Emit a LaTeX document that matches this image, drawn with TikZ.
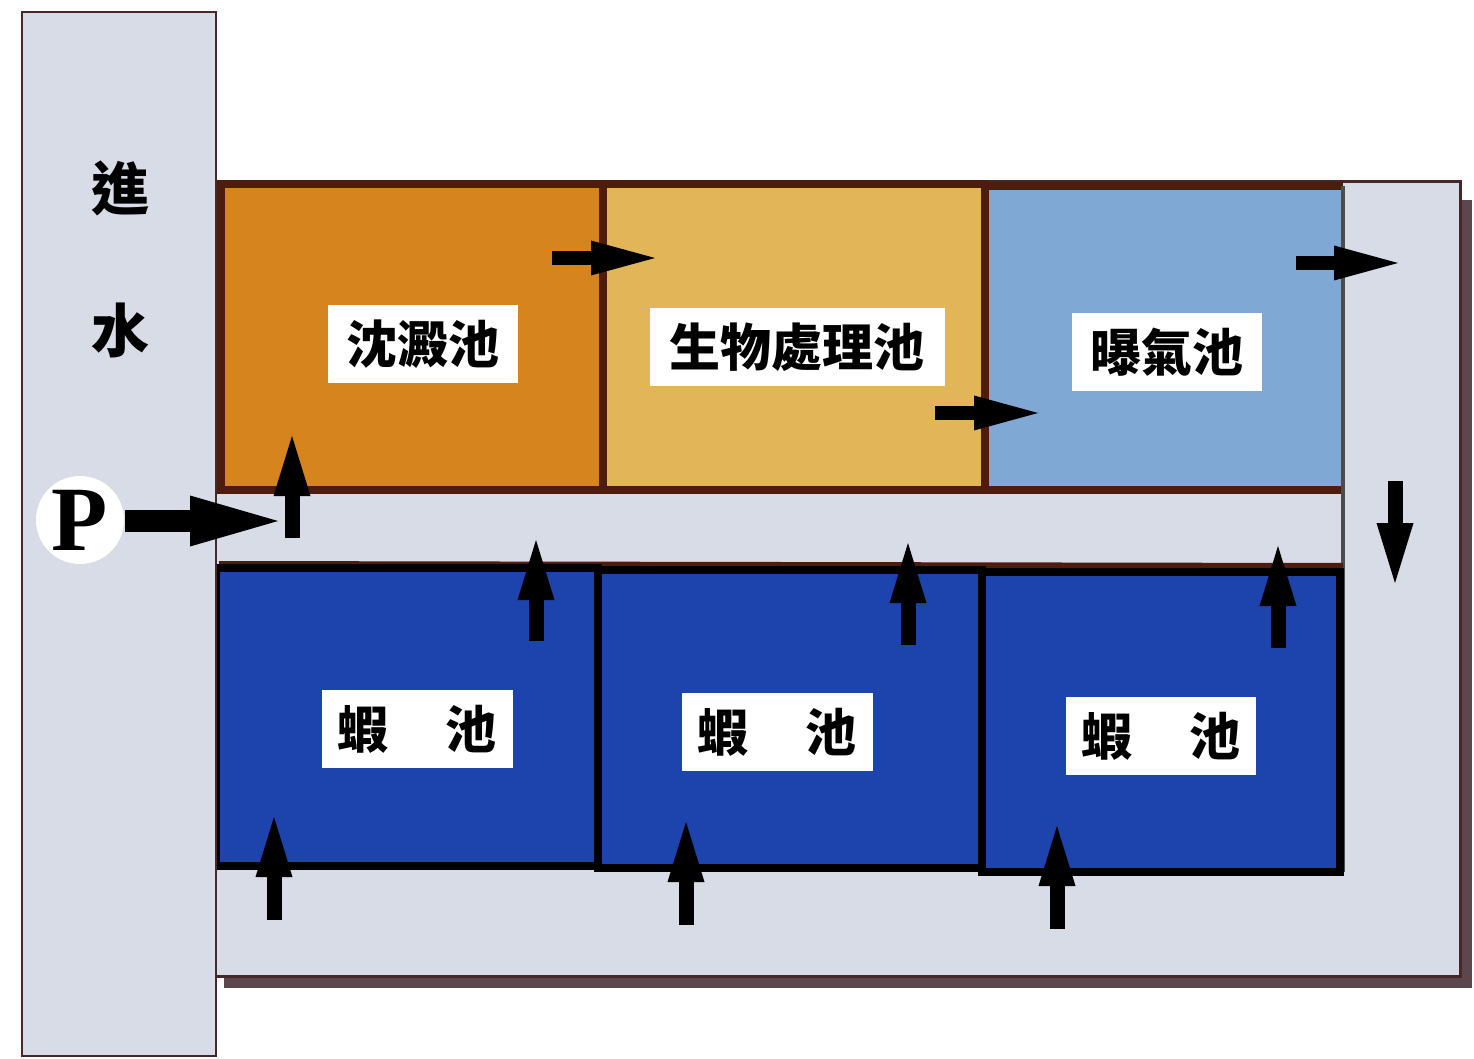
\documentclass[tikz,border=0pt]{standalone}
\usepackage{fontspec}
\setmainfont{Liberation Serif}
\newfontfamily\cjk{Noto Sans CJK TC}
\usetikzlibrary{arrows.meta}
\definecolor{grayfill}{RGB}{216,220,230}
\definecolor{shadowc}{RGB}{92,72,76}
\definecolor{framec}{RGB}{70,40,40}
\definecolor{tankborder}{RGB}{78,28,14}
\definecolor{sedc}{RGB}{214,132,30}
\definecolor{bioc}{RGB}{226,182,88}
\definecolor{aerc}{RGB}{128,168,212}
\definecolor{shrimpc}{RGB}{28,68,172}
\tikzset{
  tankbox/.style={line width=4pt, draw=tankborder},
  shrimpbox/.style={line width=4pt, draw=black, fill=shrimpc},
  labelbox/.style={fill=white, inner sep=0pt, minimum height=39pt,
    font=\cjk\bfseries\fontsize{25.5}{26}\selectfont},
  sidelabel/.style={inner sep=0pt, font=\cjk\bfseries\fontsize{29}{30}\selectfont},
  flowh/.style={line width=7pt, line cap=butt, -{Triangle[length=32pt,width=17.5pt,line width=0pt]}},
  flowv/.style={line width=7.5pt, line cap=butt, -{Triangle[length=30pt,width=18.5pt,line width=0pt]}},
  flowp/.style={line width=11pt, line cap=butt, -{Triangle[length=44pt,width=25.5pt,line width=0pt]}},
}
\begin{document}
\begin{tikzpicture}[x=0.5pt,y=-0.5pt]
\useasboundingbox (0,0) rectangle (1474,1059);
\fill[white] (0,0) rectangle (1474,1059);
% shadow of the frame
\fill[shadowc] (224,200) rectangle (1472,988);
% outer frame (channels)
\draw[fill=grayfill, draw=framec, line width=1.5pt] (214,182) rectangle (1460,976);
% top row tanks
\draw[tankbox, fill=sedc] (221,184) rectangle (603,490);
\draw[tankbox, fill=bioc] (603,184) rectangle (985,490);
\fill[aerc] (985,188) rectangle (1343,490);
\draw[tankborder, line width=4pt] (1343,186) -- (985,186) -- (985,490) -- (1343,490);
% separator between middle/top row and right channel
\draw[black!70, line width=1.8pt] (1343,186) -- (1343,872);
% middle channel lower border
\draw[tankborder, line width=4pt] (219,565) -- (1343,567);
% shrimp tanks
\draw[shrimpbox] (216,568) rectangle (598,866);
\draw[shrimpbox] (598,570) rectangle (982,868);
\draw[shrimpbox] (982,572) rectangle (1340,872);
% inlet column
\draw[fill=grayfill, draw=framec, line width=1.2pt] (22,12) rectangle (216,1056);
\node[sidelabel] (jin) at (120,188) {進};
\node[sidelabel] (shui) at (120,330) {水};
% labels
\node[labelbox, minimum width=95pt] (sed) at (423,344) {沈澱池};
\node[labelbox, minimum width=147.5pt] (bio) at (797,347) {生物處理池};
\node[labelbox, minimum width=95pt] (aer) at (1167,352) {曝氣池};
\node[labelbox, minimum width=95.5pt] (s1) at (417,729) {蝦\hspace{1.1em}池};
\node[labelbox, minimum width=95.5pt] (s2) at (777,732) {蝦\hspace{1.1em}池};
\node[labelbox, minimum width=95pt] (s3) at (1161,736) {蝦\hspace{1.1em}池};
% pump
\node[circle, fill=white, minimum size=44pt, inner sep=0pt,
      font=\bfseries\fontsize{46}{46}\selectfont] (pump) at (80,520) {P};
% flow arrow coordinates
\coordinate (pA) at (125,521);
\coordinate (pB) at (278,521);
\coordinate (u0a) at (292,538);  \coordinate (u0b) at (292,436);
\coordinate (h1a) at (552,258);  \coordinate (h1b) at (655,258);
\coordinate (h2a) at (935,413);  \coordinate (h2b) at (1038,413);
\coordinate (h3a) at (1296,263); \coordinate (h3b) at (1398,263);
\coordinate (d1a) at (1395,481); \coordinate (d1b) at (1395,583);
\coordinate (m1a) at (536,641);  \coordinate (m1b) at (536,540);
\coordinate (m2a) at (908,645);  \coordinate (m2b) at (908,543);
\coordinate (m3a) at (1278,648); \coordinate (m3b) at (1278,546);
\coordinate (b1a) at (274,920);  \coordinate (b1b) at (274,817);
\coordinate (b2a) at (686,925);  \coordinate (b2b) at (686,822);
\coordinate (b3a) at (1057,929); \coordinate (b3b) at (1057,826);
% arrows
\draw[flowp] (pA) -- (pB);
\draw[flowv] (u0a) -- (u0b);
\draw[flowh] (h1a) -- (h1b);
\draw[flowh] (h2a) -- (h2b);
\draw[flowh] (h3a) -- (h3b);
\draw[flowv] (d1a) -- (d1b);
\draw[flowv] (m1a) -- (m1b);
\draw[flowv] (m2a) -- (m2b);
\draw[flowv] (m3a) -- (m3b);
\draw[flowv] (b1a) -- (b1b);
\draw[flowv] (b2a) -- (b2b);
\draw[flowv] (b3a) -- (b3b);
\end{tikzpicture}
\end{document}
